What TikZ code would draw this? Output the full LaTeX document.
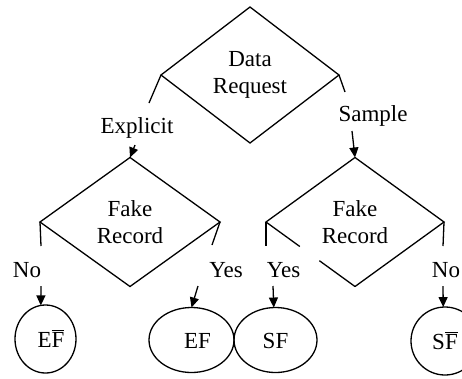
\documentclass[tikz,border=0pt]{standalone}
\usepackage{fontspec}
\setmainfont{Liberation Serif}
\usetikzlibrary{shapes.geometric,arrows.meta,calc}
\begin{document}
\begin{tikzpicture}[x=1pt,y=-1pt,
  font=\fontsize{23}{27}\selectfont,
  line width=1.3pt,
  dia/.style={diamond,inner sep=0pt,outer sep=0pt,align=center},
  ell/.style={ellipse,draw,inner sep=0pt,outer sep=0pt,text height=16pt,text depth=0pt},
  lbl/.style={inner sep=0pt,anchor=base},
  arr/.style={-{Triangle[length=10pt,width=9pt]}}]
\useasboundingbox (0,0) rectangle (462,378);

% decision nodes
\node[dia,draw,minimum width=178pt,minimum height=136pt] (d1) at (250,75) {Data\\Request};
\node[dia,draw,minimum width=180pt,minimum height=129pt] (d2) at (130,222) {Fake\\Record};
\node[dia,minimum width=178pt,minimum height=129pt] (d3) at (355,222) {Fake\\Record};
\draw (d3.south) -- ($(d3.south)!0.4!(d3.west)$);
\draw ($(d3.south)!0.62!(d3.west)$) -- (d3.west) -- (d3.north) -- (d3.east) -- (d3.south);

% outcome nodes
\node[ell,minimum width=61pt,minimum height=68pt] (c1) at (45.5,339) {\hspace*{11pt}E$\overline{\hbox{F}}$};
\node[ell,minimum width=85pt,minimum height=65pt] (c2) at (191.5,340) {\hspace*{12pt}EF};
\node[ell,minimum width=83pt,minimum height=65pt] (c3) at (275.5,340) {SF};
\node[ell,minimum width=68pt,minimum height=68pt] (c4) at (445,341) {S$\overline{\hbox{F}}$};

% labels
\node[lbl] (lE) at (137,133) {Explicit};
\node[lbl] (lS) at (373,121) {Sample};
\node[lbl] (lN1) at (27,277) {No};
\node[lbl] (lY1) at (226,277) {Yes};
\node[lbl] (lY2) at (283.5,277) {Yes};
\node[lbl] (lN2) at (446,277) {No};

% free ends of connectors
\coordinate (e1) at (149,103);
\coordinate (e2) at (345,92);
\coordinate (s1) at (135,145);
\coordinate (s2) at (352,131);
\coordinate (f1) at (41,246);
\coordinate (f2) at (212,245);
\coordinate (f3) at (266,246);
\coordinate (f4) at (443,246);
\coordinate (g1) at (41,286);
\coordinate (g2) at (198,286);
\coordinate (g3) at (273,286);
\coordinate (g4) at (443,286);

% connectors
\draw (d1.west) -- (e1);
\draw (d1.east) -- (e2);
\draw[arr] (s1) -- (d2.north);
\draw[arr] (s2) -- (d3.north);
\draw (d2.west) -- (f1);
\draw (d2.east) -- (f2);
\draw (d3.west) -- (f3);
\draw (d3.east) -- (f4);
\draw[arr] (g1) -- (c1.98);
\draw[arr] (g2) -- (c2.north);
\draw[arr] (g3) -- (c3.93);
\draw[arr] (g4) -- (c4.93);
\end{tikzpicture}
\end{document}
